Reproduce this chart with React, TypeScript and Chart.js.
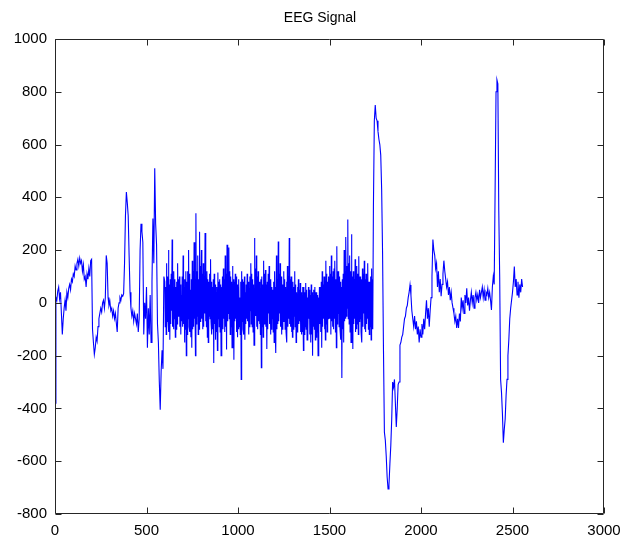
import React, { useEffect, useRef } from "react";
import { Chart, registerables } from "chart.js";

Chart.register(...registerables);

// Onset: samples 0 .. 595, one value every 5 samples
const ONSET_START = 0;
const ONSET_STEP = 5;
const eegOnset: number[] = [
  -380, 20, 10, 45, 60, 15, 40, -40, -120, -60,
  -20, 10, -30, 40, 20, 55, 70, 50, 90, 80,
  110, 100, 140, 125, 150, 165, 140, 170, 150, 160,
  120, 145, 90, 100, 60, 110, 90, 130, 100, 160,
  165, -100, -150, -195, -170, -130, -145, -90, -60, -40,
  -20, -35, 0, 10, -20, 20, 180, 150, 20, -10,
  5, -30, -20, -50, -30, -60, -40, -75, -110, -20,
  0, 20, 10, 30, 25, 35, 150, 330, 420, 380,
  330, 180, 40, -20, -50, -30, -70, -40, -60, -80,
  -40, -110, -60, 200, 300, 270, 230, -120, 0, -60,
  60, -170, -20, -120, 30, -150, 80, 320, 150, 510,
  300, 220, -80, -150, -300, -405, -260, -180, -250, 100,
];

// Burst: samples 600 .. 1737.5, one value every 2.5 samples
const BURST_START = 600;
const BURST_STEP = 2.5;
const eegBurst: number[] = [
  80, -90, 60, -120, 150, -70, 100, -60, 200, -110, 70, -140, 90, -80, 110, -30, 240, -90, 60, -100,
  120, -60, 90, -130, 60, -100, 80, -80, 150, -50, 90, -40, 100, -90, 70, -120, 30, -70, 100, -90,
  180, -80, 60, -150, 90, -100, 120, -200, 80, -120, 120, -60, 200, -90, 110, -110, 50, -130, 90, -170,
  160, -100, 120, -90, 230, -60, 100, -200, 340, -80, 120, -50, 180, -120, 90, -100, 270, -70, 140, -60,
  200, -60, 110, -100, 150, -90, 80, -40, 265, -70, 100, -90, 120, -130, 90, -150, 80, -50, 110, -60,
  165, -70, 80, -120, 60, -100, 90, -228, 110, -80, 70, -140, 40, -110, 60, -180, 115, -60, 80, -90,
  90, -110, 70, -200, 60, -80, 100, -100, 130, -60, 90, -110, 180, -90, 110, -177, 220, -70, 120, -40,
  210, -60, 120, -120, 100, -90, 80, -170, 140, -100, 90, -215, 80, -70, 110, -60, 100, -110, 70, -130,
  60, -100, 90, -90, 20, -120, 80, -290, 120, -70, 90, -100, 80, -120, 100, -140, 40, -80, 70, -60,
  110, -70, 80, -120, 60, -90, 100, -30, 150, -80, 110, -90, 90, -110, 70, -160, 246, -60, 130, -50,
  180, -90, 100, -100, 120, -70, 80, -80, 60, -120, 90, -246, 100, -90, 70, -130, 160, -80, 110, -60,
  125, -90, 70, -175, 80, -100, 110, -40, 140, -80, 90, -120, 90, -100, 60, -60, 50, -110, 80, -150,
  120, -80, 60, -190, 180, -100, 90, -80, 233, -70, 110, -40, 150, -90, 100, -120, 90, -100, 70, -70,
  120, -70, 90, -100, 60, -110, 80, -150, 140, -90, 100, -60, 246, -80, 90, -90, 100, -110, 60, -130,
  80, -100, 60, -50, 120, -90, 70, -150, 40, -110, 60, -100, 90, -80, 50, -70, 75, -110, 40, -120,
  30, -110, 60, -180, 60, -120, 40, -90, 75, -100, 50, -140, 20, -130, 60, -60, 50, -120, 30, -150,
  70, -120, 40, -200, 30, -90, 50, -100, 60, -140, 40, -130, 40, -110, 30, -200, 20, -100, 60, -80,
  60, -110, 80, -170, 120, -90, 70, -60, 100, -100, 90, -140, 160, -80, 110, -110, 80, -60, 100, -30,
  140, -60, 110, -120, 180, -70, 100, -90, 120, -100, 130, -60, 160, -110, 90, -170, 215, -80, 120, -40,
  120, -90, 100, -100, 80, -140, 60, -285, 90, -100, 110, -150, 200, -70, 120, -60, 250, -50, 140, -20,
  316, -60, 150, -80, 180, -110, 120, -150, 260, -90, 100, -175, 120, -80, 90, -60, 165, -110, 100, -100,
  140, -80, 110, -120, 177, -70, 100, -60, 100, -110, 90, -150, 130, -90, 110, -40, 160, -100, 90, -110,
  110, -80, 90, -60, 150, -100, 80, -120, 80, -90, 100, -140, 130, -70, 90, -100,
];

// Tail: samples 1740 .. 2555, one value every 5 samples
const TAIL_START = 1740;
const TAIL_STEP = 5;
const eegTail: number[] = [
  365, 690,
  750, 700, 690, 650, 620, 600, 560, 430, 190, -180,
  -490, -520, -580, -660, -705, -690, -610, -540, -440, -300,
  -320, -290, -380, -470, -400, -310, -300, -160, -150, -130,
  -120, -90, -60, -50, -20, -10, 20, 40, 68, 30,
  -30, -60, -90, -50, -100, -70, -120, -90, -150, -100,
  -130, -80, -120, -60, -100, -40, 10, -60, -20, -90,
  -30, 20, 100, 240, 200, 180, 130, 150, 60, 120,
  40, 90, 25, 70, 110, 160, 120, 90, 60, 80,
  30, 60, 10, 40, 0, -20, -40, -70, -50, -95,
  -60, -95, -40, -70, 20, -20, 10, -40, 30, 0,
  55, -10, 20, -30, 10, 40, 0, 30, -20, 20,
  40, 10, 30, 0, 50, 20, 40, 60, 20, 50,
  10, 40, 30, 55, 20, 40, 10, -27, 60, 100,
  70, 430, 800, 845, 830, 350, 100, -290, -340, -420,
  -530, -480, -440, -350, -290, -200, -140, -60, -20, 10,
  40, 80, 138, 60, 90, 30, 80, 20, 70, 40,
  90, 60,
];

const X_MIN = 0;
const X_MAX = 3000;
const X_STEP = 500;
const Y_MIN = -800;
const Y_MAX = 1000;
const Y_STEP = 200;
const TITLE = "EEG Signal";

const FONT = "'Liberation Sans', Arial, sans-serif";

const matlabAxes = {
  id: "matlabAxes",
  afterDatasetsDraw(chart: any) {
    const { ctx, chartArea: a, scales } = chart;
    const x = scales.x;
    const y = scales.y;
    const L = Math.round(a.left) + 0.5;
    const R = Math.round(a.right) - 0.5;
    const T = Math.round(a.top) + 0.5;
    const B = Math.round(a.bottom) - 0.5;
    const len = 6;
    ctx.save();
    ctx.strokeStyle = "#262626";
    ctx.lineWidth = 1;
    ctx.beginPath();
    ctx.rect(L, T, R - L, B - T);
    x.ticks.forEach((t: any) => {
      const px = Math.round(x.getPixelForValue(t.value)) + 0.5;
      ctx.moveTo(px, B);
      ctx.lineTo(px, B - len);
      ctx.moveTo(px, T);
      ctx.lineTo(px, T + len);
    });
    y.ticks.forEach((t: any) => {
      const py = Math.round(y.getPixelForValue(t.value)) + 0.5;
      ctx.moveTo(L, py);
      ctx.lineTo(L + len, py);
      ctx.moveTo(R, py);
      ctx.lineTo(R - len, py);
    });
    ctx.stroke();
    ctx.restore();
  },
};

function toPoints(values: number[], start: number, step: number) {
  return values.map((v, i) => ({ x: start + i * step, y: v }));
}

export default function App() {
  const ref = useRef<HTMLCanvasElement | null>(null);

  useEffect(() => {
    if (!ref.current) return;
    const points = [
      ...toPoints(eegOnset, ONSET_START, ONSET_STEP),
      ...toPoints(eegBurst, BURST_START, BURST_STEP),
      ...toPoints(eegTail, TAIL_START, TAIL_STEP),
    ];
    const chart = new Chart(ref.current, {
      type: "line",
      data: {
        datasets: [
          {
            data: points,
            borderColor: "#0000ff",
            borderWidth: 1.1,
            pointRadius: 0,
            tension: 0,
            fill: false,
            yAxisID: "y",
          },
        ],
      },
      options: {
        responsive: false,
        animation: false,
        layout: { padding: { left: 6, right: 0, top: 0, bottom: 0 } },
        plugins: {
          legend: { display: false },
          tooltip: { enabled: false },
          title: {
            display: true,
            text: TITLE,
            color: "#000",
            font: { family: FONT, size: 14, weight: "normal" },
            padding: { top: 10, bottom: 12.2 },
          },
        },
        scales: {
          x: {
            type: "linear",
            min: X_MIN,
            max: X_MAX,
            grid: { display: false, drawTicks: false },
            border: { display: false },
            ticks: {
              stepSize: X_STEP,
              color: "#000",
              padding: 8,
              maxRotation: 0,
              font: { family: FONT, size: 15 },
              callback: (v: any) => String(v),
            },
            afterFit: (s: any) => {
              s.height = 27;
            },
          },
          y: {
            type: "linear",
            position: "left",
            min: Y_MIN,
            max: Y_MAX,
            grid: { display: false, drawTicks: false },
            border: { display: false },
            ticks: {
              stepSize: Y_STEP,
              color: "#000",
              padding: 8,
              font: { family: FONT, size: 15 },
              callback: (v: any) => String(v),
            },
            afterFit: (s: any) => {
              s.width = 49;
            },
          },
          yRight: {
            type: "linear",
            position: "right",
            min: Y_MIN,
            max: Y_MAX,
            grid: { display: false, drawTicks: false },
            border: { display: false },
            ticks: { display: false },
            afterFit: (s: any) => {
              s.width = 30;
            },
          },
        },
      },
      plugins: [matlabAxes],
    });
    return () => chart.destroy();
  }, []);

  return (
    <div style={{ position: "fixed", left: 0, top: 0, width: 634, height: 541, background: "#fff" }}>
      <canvas ref={ref} width={634} height={541} />
    </div>
  );
}
